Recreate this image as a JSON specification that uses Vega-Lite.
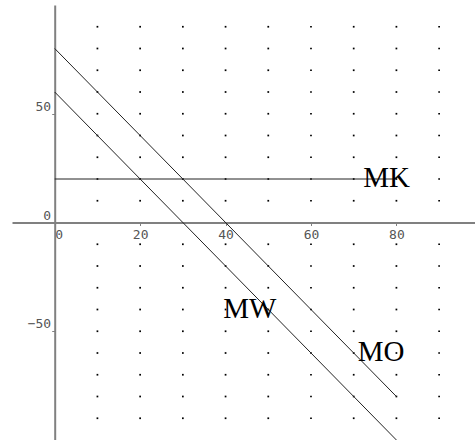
{
  "$schema": "https://vega.github.io/schema/vega-lite/v6.json",
  "width": 463,
  "height": 435,
  "autosize": {"type": "none"},
  "padding": {"left": 12, "top": 5, "right": 0, "bottom": 0},
  "background": "white",
  "config": {"view": {"stroke": null}},
  "datasets": {
    "lines": [
      {"name": "MK", "x": 0, "y": 20},
      {"name": "MK", "x": 80, "y": 20},
      {"name": "MW", "x": 0, "y": 60},
      {"name": "MW", "x": 80, "y": -100},
      {"name": "MO", "x": 0, "y": 80},
      {"name": "MO", "x": 80, "y": -80}
    ],
    "tags": [
      {"name": "MK", "x": 77.7, "y": 16.5},
      {"name": "MW", "x": 45.7, "y": -43.9},
      {"name": "MO", "x": 76.4, "y": -63.7}
    ],
    "dots": [
      {"x":10,"y":90},{"x":10,"y":80},{"x":10,"y":70},{"x":10,"y":60},{"x":10,"y":50},{"x":10,"y":40},{"x":10,"y":30},{"x":10,"y":20},{"x":10,"y":10},{"x":10,"y":-10},{"x":10,"y":-20},{"x":10,"y":-30},{"x":10,"y":-40},{"x":10,"y":-50},{"x":10,"y":-60},{"x":10,"y":-70},{"x":10,"y":-80},{"x":10,"y":-90},
      {"x":20,"y":90},{"x":20,"y":80},{"x":20,"y":70},{"x":20,"y":60},{"x":20,"y":50},{"x":20,"y":40},{"x":20,"y":30},{"x":20,"y":20},{"x":20,"y":10},{"x":20,"y":-10},{"x":20,"y":-20},{"x":20,"y":-30},{"x":20,"y":-40},{"x":20,"y":-50},{"x":20,"y":-60},{"x":20,"y":-70},{"x":20,"y":-80},{"x":20,"y":-90},
      {"x":30,"y":90},{"x":30,"y":80},{"x":30,"y":70},{"x":30,"y":60},{"x":30,"y":50},{"x":30,"y":40},{"x":30,"y":30},{"x":30,"y":20},{"x":30,"y":10},{"x":30,"y":-10},{"x":30,"y":-20},{"x":30,"y":-30},{"x":30,"y":-40},{"x":30,"y":-50},{"x":30,"y":-60},{"x":30,"y":-70},{"x":30,"y":-80},{"x":30,"y":-90},
      {"x":40,"y":90},{"x":40,"y":80},{"x":40,"y":70},{"x":40,"y":60},{"x":40,"y":50},{"x":40,"y":40},{"x":40,"y":30},{"x":40,"y":20},{"x":40,"y":10},{"x":40,"y":-10},{"x":40,"y":-20},{"x":40,"y":-30},{"x":40,"y":-40},{"x":40,"y":-50},{"x":40,"y":-60},{"x":40,"y":-70},{"x":40,"y":-80},{"x":40,"y":-90},
      {"x":50,"y":90},{"x":50,"y":80},{"x":50,"y":70},{"x":50,"y":60},{"x":50,"y":50},{"x":50,"y":40},{"x":50,"y":30},{"x":50,"y":20},{"x":50,"y":10},{"x":50,"y":-10},{"x":50,"y":-20},{"x":50,"y":-30},{"x":50,"y":-40},{"x":50,"y":-50},{"x":50,"y":-60},{"x":50,"y":-70},{"x":50,"y":-80},{"x":50,"y":-90},
      {"x":60,"y":90},{"x":60,"y":80},{"x":60,"y":70},{"x":60,"y":60},{"x":60,"y":50},{"x":60,"y":40},{"x":60,"y":30},{"x":60,"y":20},{"x":60,"y":10},{"x":60,"y":-10},{"x":60,"y":-20},{"x":60,"y":-30},{"x":60,"y":-40},{"x":60,"y":-50},{"x":60,"y":-60},{"x":60,"y":-70},{"x":60,"y":-80},{"x":60,"y":-90},
      {"x":70,"y":90},{"x":70,"y":80},{"x":70,"y":70},{"x":70,"y":60},{"x":70,"y":50},{"x":70,"y":40},{"x":70,"y":30},{"x":70,"y":20},{"x":70,"y":10},{"x":70,"y":-10},{"x":70,"y":-20},{"x":70,"y":-30},{"x":70,"y":-40},{"x":70,"y":-50},{"x":70,"y":-60},{"x":70,"y":-70},{"x":70,"y":-80},{"x":70,"y":-90},
      {"x":80,"y":90},{"x":80,"y":80},{"x":80,"y":70},{"x":80,"y":60},{"x":80,"y":50},{"x":80,"y":40},{"x":80,"y":30},{"x":80,"y":20},{"x":80,"y":10},{"x":80,"y":-10},{"x":80,"y":-20},{"x":80,"y":-30},{"x":80,"y":-40},{"x":80,"y":-50},{"x":80,"y":-60},{"x":80,"y":-70},{"x":80,"y":-80},{"x":80,"y":-90},
      {"x":90,"y":90},{"x":90,"y":80},{"x":90,"y":70},{"x":90,"y":60},{"x":90,"y":50},{"x":90,"y":40},{"x":90,"y":30},{"x":90,"y":20},{"x":90,"y":10},{"x":90,"y":-10},{"x":90,"y":-20},{"x":90,"y":-30},{"x":90,"y":-40},{"x":90,"y":-50},{"x":90,"y":-60},{"x":90,"y":-70},{"x":90,"y":-80},{"x":90,"y":-90}
    ]
  },
  "layer": [
    {
      "data": {"name": "dots"},
      "mark": {"type": "square", "size": 3, "color": "#000", "opacity": 1},
      "encoding": {
        "x": {
          "field": "x",
          "type": "quantitative",
          "scale": {"domain": [-10, 98.4], "nice": false, "zero": false},
          "axis": {
            "orient": "bottom",
            "offset": -217.5,
            "values": [0, 20, 40, 60, 80],
            "title": null,
            "grid": false,
            "domainColor": "#808080",
            "domainWidth": 2,
            "tickColor": "#808080",
            "tickSize": 3,
            "labelPadding": 3,
            "labelFont": "DejaVu Sans Mono",
            "labelFontSize": 13,
            "labelColor": "#555",
            "labelAlign": {"condition": {"test": "datum.value == 0", "value": "left"}, "value": "center"}
          }
        },
        "y": {
          "field": "y",
          "type": "quantitative",
          "scale": {"domain": [-100, 100], "nice": false, "zero": false},
          "axis": {
            "orient": "left",
            "offset": -42.7,
            "values": [-50, 0, 50],
            "title": null,
            "grid": false,
            "domainColor": "#808080",
            "domainWidth": 2,
            "tickColor": "#808080",
            "tickSize": 3,
            "labelPadding": 1,
            "labelFont": "DejaVu Sans Mono",
            "labelFontSize": 13,
            "labelColor": "#555",
            "labelBaseline": "alphabetic",
            "labelOffset": -3.5
          }
        }
      }
    },
    {
      "data": {"name": "lines"},
      "mark": {"type": "line", "stroke": "#222", "strokeWidth": 1},
      "encoding": {
        "x": {"field": "x", "type": "quantitative"},
        "y": {"field": "y", "type": "quantitative"},
        "detail": {"field": "name"}
      }
    },
    {
      "data": {"name": "tags"},
      "mark": {"type": "text", "font": "Liberation Serif", "fontSize": 29, "align": "center", "baseline": "alphabetic", "color": "#000"},
      "encoding": {
        "x": {"field": "x", "type": "quantitative"},
        "y": {"field": "y", "type": "quantitative"},
        "text": {"field": "name"}
      }
    }
  ]
}
